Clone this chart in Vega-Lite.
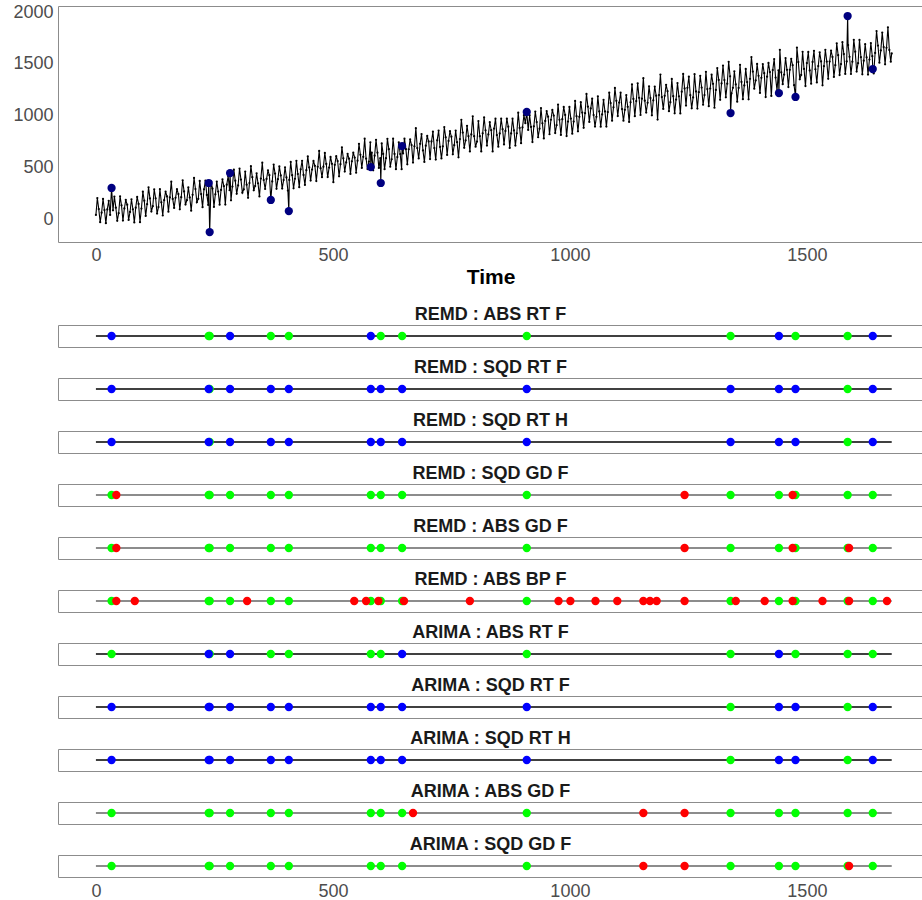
{
"$schema":"https://vega.github.io/schema/vega-lite/v6.json",
"background":"white",
"padding":{"left":12,"top":2,"right":0,"bottom":0},
"config":{"view":{"stroke":"#8c8c8c","strokeWidth":1},"font":"Liberation Sans",
"axis":{"labelFont":"Liberation Sans","labelFontSize":18,"labelColor":"#4d4d4d","ticks":false,"domain":false,"grid":false,"labelPadding":4,"format":"d"},
"header":{"labelFont":"Liberation Sans","labelFontSize":18,"labelFontWeight":"bold","labelColor":"#1a1a1a","labelPadding":1}},
"datasets":{
"series":[
{"t":0,"v":40},{"t":3,"v":203},{"t":6,"v":96},{"t":9,"v":-31},
{"t":12,"v":61},{"t":15,"v":194},{"t":18,"v":87},{"t":21,"v":-40},
{"t":24,"v":93},{"t":27,"v":176},{"t":30,"v":39},{"t":33,"v":300},
{"t":36,"v":84},{"t":39,"v":217},{"t":42,"v":110},{"t":45,"v":-17},
{"t":48,"v":56},{"t":51,"v":219},{"t":54,"v":132},{"t":57,"v":-15},
{"t":60,"v":102},{"t":63,"v":185},{"t":66,"v":138},{"t":69,"v":-9},
{"t":72,"v":68},{"t":75,"v":191},{"t":78,"v":94},{"t":81,"v":-33},
{"t":84,"v":110},{"t":87,"v":213},{"t":90,"v":146},{"t":93,"v":-31},
{"t":96,"v":101},{"t":99,"v":264},{"t":102,"v":177},{"t":105,"v":30},
{"t":108,"v":143},{"t":111,"v":306},{"t":114,"v":199},{"t":117,"v":72},
{"t":120,"v":124},{"t":123,"v":287},{"t":126,"v":200},{"t":129,"v":53},
{"t":132,"v":115},{"t":135,"v":288},{"t":138,"v":161},{"t":141,"v":34},
{"t":144,"v":182},{"t":147,"v":265},{"t":150,"v":218},{"t":153,"v":71},
{"t":156,"v":208},{"t":159,"v":361},{"t":162,"v":194},{"t":165,"v":107},
{"t":168,"v":205},{"t":171,"v":288},{"t":174,"v":241},{"t":177,"v":94},
{"t":180,"v":211},{"t":183,"v":374},{"t":186,"v":267},{"t":189,"v":140},
{"t":192,"v":182},{"t":195,"v":305},{"t":198,"v":208},{"t":201,"v":81},
{"t":204,"v":234},{"t":207,"v":397},{"t":210,"v":290},{"t":213,"v":163},
{"t":216,"v":195},{"t":219,"v":368},{"t":222,"v":241},{"t":225,"v":114},
{"t":228,"v":287},{"t":231,"v":370},{"t":234,"v":233},{"t":237,"v":136},{"t":238,"v":348},
{"t":240,"v":-126},{"t":243,"v":361},{"t":246,"v":294},{"t":249,"v":117},
{"t":252,"v":239},{"t":255,"v":362},{"t":258,"v":265},{"t":261,"v":138},
{"t":264,"v":281},{"t":267,"v":384},{"t":270,"v":317},{"t":273,"v":140},
{"t":276,"v":332},{"t":279,"v":415},{"t":282,"v":278},{"t":283,"v":444},{"t":285,"v":181},
{"t":288,"v":314},{"t":291,"v":477},{"t":294,"v":370},{"t":297,"v":243},
{"t":300,"v":325},{"t":303,"v":488},{"t":306,"v":381},{"t":309,"v":254},
{"t":312,"v":286},{"t":315,"v":459},{"t":318,"v":332},{"t":321,"v":205},
{"t":324,"v":348},{"t":327,"v":511},{"t":330,"v":404},{"t":333,"v":277},
{"t":336,"v":319},{"t":339,"v":442},{"t":342,"v":345},{"t":345,"v":218},
{"t":348,"v":391},{"t":351,"v":544},{"t":354,"v":377},{"t":357,"v":290},
{"t":360,"v":387},{"t":363,"v":470},{"t":366,"v":423},{"t":369,"v":184},
{"t":372,"v":363},{"t":375,"v":526},{"t":378,"v":439},{"t":381,"v":292},
{"t":384,"v":385},{"t":387,"v":508},{"t":390,"v":421},{"t":393,"v":294},
{"t":396,"v":376},{"t":399,"v":499},{"t":402,"v":402},{"t":405,"v":275},{"t":407,"v":77},
{"t":408,"v":378},{"t":411,"v":551},{"t":414,"v":424},{"t":417,"v":297},
{"t":420,"v":389},{"t":423,"v":562},{"t":426,"v":435},{"t":429,"v":308},
{"t":432,"v":480},{"t":435,"v":563},{"t":438,"v":426},{"t":441,"v":329},
{"t":444,"v":472},{"t":447,"v":605},{"t":450,"v":498},{"t":453,"v":371},
{"t":456,"v":478},{"t":459,"v":561},{"t":462,"v":514},{"t":465,"v":367},
{"t":468,"v":505},{"t":471,"v":658},{"t":474,"v":491},{"t":477,"v":404},
{"t":480,"v":506},{"t":483,"v":639},{"t":486,"v":532},{"t":489,"v":405},
{"t":492,"v":497},{"t":495,"v":600},{"t":498,"v":533},{"t":501,"v":356},
{"t":504,"v":524},{"t":507,"v":607},{"t":510,"v":560},{"t":513,"v":413},
{"t":516,"v":530},{"t":519,"v":693},{"t":522,"v":586},{"t":525,"v":459},
{"t":528,"v":547},{"t":531,"v":630},{"t":534,"v":583},{"t":537,"v":436},
{"t":540,"v":558},{"t":543,"v":641},{"t":546,"v":594},{"t":549,"v":447},
{"t":552,"v":564},{"t":555,"v":727},{"t":558,"v":620},{"t":561,"v":493},
{"t":564,"v":601},{"t":567,"v":776},{"t":570,"v":584},{"t":573,"v":483},
{"t":576,"v":554},{"t":579,"v":741},{"t":580,"v":502},{"t":582,"v":641},{"t":585,"v":471},
{"t":588,"v":612},{"t":591,"v":765},{"t":594,"v":641},{"t":597,"v":494},
{"t":600,"v":588},{"t":601,"v":348},{"t":603,"v":730},{"t":606,"v":629},{"t":609,"v":482},
{"t":612,"v":588},{"t":615,"v":775},{"t":618,"v":675},{"t":621,"v":505},
{"t":624,"v":577},{"t":627,"v":776},{"t":630,"v":629},{"t":633,"v":482},
{"t":636,"v":599},{"t":639,"v":741},{"t":642,"v":628},{"t":645,"v":482},{"t":646,"v":705},
{"t":648,"v":634},{"t":651,"v":776},{"t":654,"v":675},{"t":657,"v":528},
{"t":660,"v":674},{"t":663,"v":769},{"t":666,"v":715},{"t":669,"v":545},
{"t":672,"v":703},{"t":675,"v":878},{"t":678,"v":686},{"t":681,"v":585},
{"t":684,"v":726},{"t":687,"v":821},{"t":690,"v":663},{"t":693,"v":551},
{"t":696,"v":708},{"t":699,"v":803},{"t":702,"v":749},{"t":705,"v":579},
{"t":708,"v":749},{"t":711,"v":844},{"t":714,"v":686},{"t":717,"v":574},
{"t":720,"v":760},{"t":723,"v":855},{"t":726,"v":697},{"t":729,"v":585},
{"t":732,"v":702},{"t":735,"v":889},{"t":738,"v":789},{"t":741,"v":619},
{"t":744,"v":754},{"t":747,"v":849},{"t":750,"v":795},{"t":753,"v":625},
{"t":756,"v":713},{"t":759,"v":855},{"t":762,"v":742},{"t":765,"v":596},
{"t":768,"v":772},{"t":771,"v":959},{"t":774,"v":835},{"t":777,"v":688},
{"t":780,"v":759},{"t":783,"v":901},{"t":786,"v":800},{"t":789,"v":653},
{"t":792,"v":817},{"t":795,"v":992},{"t":798,"v":800},{"t":801,"v":699},
{"t":804,"v":748},{"t":807,"v":947},{"t":810,"v":800},{"t":813,"v":653},
{"t":816,"v":828},{"t":819,"v":981},{"t":822,"v":857},{"t":825,"v":710},
{"t":828,"v":817},{"t":831,"v":935},{"t":834,"v":858},{"t":837,"v":653},
{"t":840,"v":874},{"t":843,"v":969},{"t":846,"v":811},{"t":849,"v":699},
{"t":852,"v":827},{"t":855,"v":969},{"t":858,"v":868},{"t":861,"v":721},
{"t":864,"v":851},{"t":867,"v":969},{"t":870,"v":892},{"t":873,"v":687},
{"t":876,"v":827},{"t":879,"v":969},{"t":882,"v":856},{"t":885,"v":710},
{"t":888,"v":828},{"t":891,"v":1027},{"t":894,"v":880},{"t":897,"v":733},
{"t":900,"v":885},{"t":903,"v":1003},{"t":906,"v":926},{"t":909,"v":1034},
{"t":912,"v":861},{"t":915,"v":1003},{"t":918,"v":890},{"t":921,"v":744},
{"t":924,"v":896},{"t":927,"v":1038},{"t":930,"v":937},{"t":933,"v":790},
{"t":936,"v":873},{"t":939,"v":1072},{"t":942,"v":925},{"t":945,"v":778},
{"t":948,"v":948},{"t":951,"v":1043},{"t":954,"v":989},{"t":957,"v":819},
{"t":960,"v":959},{"t":963,"v":1054},{"t":966,"v":1000},{"t":969,"v":830},
{"t":972,"v":907},{"t":975,"v":1106},{"t":978,"v":959},{"t":981,"v":812},
{"t":984,"v":965},{"t":987,"v":1083},{"t":990,"v":1006},{"t":993,"v":801},
{"t":996,"v":941},{"t":999,"v":1083},{"t":1002,"v":970},{"t":1005,"v":824},
{"t":1008,"v":942},{"t":1011,"v":1141},{"t":1014,"v":994},{"t":1017,"v":847},
{"t":1020,"v":987},{"t":1023,"v":1129},{"t":1026,"v":1028},{"t":1029,"v":881},
{"t":1032,"v":1022},{"t":1035,"v":1209},{"t":1038,"v":1085},{"t":1041,"v":938},
{"t":1044,"v":1068},{"t":1047,"v":1163},{"t":1050,"v":1005},{"t":1053,"v":893},
{"t":1056,"v":987},{"t":1059,"v":1186},{"t":1062,"v":1039},{"t":1065,"v":892},
{"t":1068,"v":1010},{"t":1071,"v":1152},{"t":1074,"v":1039},{"t":1077,"v":893},
{"t":1080,"v":1033},{"t":1083,"v":1220},{"t":1086,"v":1120},{"t":1089,"v":950},
{"t":1092,"v":1079},{"t":1095,"v":1266},{"t":1098,"v":1142},{"t":1101,"v":995},
{"t":1104,"v":1125},{"t":1107,"v":1220},{"t":1110,"v":1062},{"t":1113,"v":950},
{"t":1116,"v":1055},{"t":1119,"v":1197},{"t":1122,"v":1084},{"t":1125,"v":938},
{"t":1128,"v":1128},{"t":1131,"v":1300},{"t":1134,"v":1160},{"t":1137,"v":994},
{"t":1140,"v":1139},{"t":1143,"v":1311},{"t":1146,"v":1171},{"t":1149,"v":1005},
{"t":1152,"v":1163},{"t":1155,"v":1361},{"t":1158,"v":1143},{"t":1161,"v":1029},
{"t":1164,"v":1123},{"t":1167,"v":1282},{"t":1170,"v":1168},{"t":1173,"v":1002},
{"t":1176,"v":1147},{"t":1179,"v":1280},{"t":1182,"v":1192},{"t":1185,"v":961},
{"t":1188,"v":1198},{"t":1191,"v":1396},{"t":1194,"v":1178},{"t":1197,"v":1064},
{"t":1200,"v":1190},{"t":1203,"v":1297},{"t":1206,"v":1235},{"t":1209,"v":1042},
{"t":1212,"v":1129},{"t":1215,"v":1353},{"t":1218,"v":1187},{"t":1221,"v":1021},
{"t":1224,"v":1154},{"t":1227,"v":1313},{"t":1230,"v":1186},{"t":1233,"v":1020},
{"t":1236,"v":1230},{"t":1239,"v":1402},{"t":1242,"v":1262},{"t":1245,"v":1096},
{"t":1248,"v":1268},{"t":1251,"v":1375},{"t":1254,"v":1196},{"t":1257,"v":1069},
{"t":1260,"v":1175},{"t":1263,"v":1399},{"t":1266,"v":1233},{"t":1269,"v":1067},
{"t":1272,"v":1225},{"t":1275,"v":1384},{"t":1278,"v":1270},{"t":1281,"v":1104},
{"t":1284,"v":1198},{"t":1287,"v":1422},{"t":1290,"v":1256},{"t":1293,"v":1090},
{"t":1296,"v":1261},{"t":1299,"v":1394},{"t":1302,"v":1306},{"t":1305,"v":1075},
{"t":1308,"v":1247},{"t":1311,"v":1458},{"t":1314,"v":1344},{"t":1317,"v":1152},
{"t":1320,"v":1310},{"t":1323,"v":1482},{"t":1326,"v":1342},{"t":1329,"v":1176},
{"t":1332,"v":1308},{"t":1335,"v":1519},{"t":1338,"v":1379},{"t":1339,"v":1024},{"t":1341,"v":1213},
{"t":1344,"v":1268},{"t":1347,"v":1427},{"t":1350,"v":1300},{"t":1353,"v":1134},
{"t":1356,"v":1266},{"t":1359,"v":1490},{"t":1362,"v":1324},{"t":1365,"v":1158},
{"t":1368,"v":1291},{"t":1371,"v":1450},{"t":1374,"v":1323},{"t":1377,"v":1157},
{"t":1380,"v":1354},{"t":1383,"v":1565},{"t":1386,"v":1425},{"t":1389,"v":1259},
{"t":1392,"v":1339},{"t":1395,"v":1498},{"t":1398,"v":1384},{"t":1401,"v":1218},
{"t":1404,"v":1364},{"t":1407,"v":1497},{"t":1410,"v":1409},{"t":1413,"v":1178},
{"t":1416,"v":1375},{"t":1419,"v":1508},{"t":1422,"v":1420},{"t":1425,"v":1189},
{"t":1428,"v":1439},{"t":1431,"v":1546},{"t":1434,"v":1367},{"t":1437,"v":1240},
{"t":1440,"v":1437},{"t":1441,"v":1217},{"t":1443,"v":1635},{"t":1446,"v":1417},{"t":1449,"v":1303},
{"t":1452,"v":1396},{"t":1455,"v":1555},{"t":1458,"v":1441},{"t":1461,"v":1275},
{"t":1464,"v":1441},{"t":1467,"v":1548},{"t":1470,"v":1486},{"t":1473,"v":1293},
{"t":1476,"v":1179},{"t":1479,"v":1656},{"t":1482,"v":1516},{"t":1485,"v":1350},
{"t":1488,"v":1392},{"t":1491,"v":1616},{"t":1494,"v":1450},{"t":1497,"v":1284},
{"t":1500,"v":1507},{"t":1503,"v":1614},{"t":1506,"v":1435},{"t":1509,"v":1308},
{"t":1512,"v":1518},{"t":1515,"v":1625},{"t":1518,"v":1446},{"t":1521,"v":1319},
{"t":1524,"v":1478},{"t":1527,"v":1611},{"t":1530,"v":1523},{"t":1533,"v":1292},
{"t":1536,"v":1476},{"t":1539,"v":1635},{"t":1542,"v":1521},{"t":1545,"v":1355},
{"t":1548,"v":1521},{"t":1551,"v":1628},{"t":1554,"v":1566},{"t":1557,"v":1373},
{"t":1560,"v":1486},{"t":1563,"v":1697},{"t":1566,"v":1583},{"t":1569,"v":1391},
{"t":1572,"v":1497},{"t":1575,"v":1708},{"t":1578,"v":1594},{"t":1581,"v":1402},
{"t":1584,"v":1522},{"t":1586,"v":1961},{"t":1587,"v":1681},{"t":1590,"v":1567},{"t":1593,"v":1401},
{"t":1596,"v":1520},{"t":1599,"v":1731},{"t":1602,"v":1617},{"t":1605,"v":1425},
{"t":1608,"v":1506},{"t":1611,"v":1730},{"t":1614,"v":1564},{"t":1617,"v":1398},
{"t":1620,"v":1530},{"t":1623,"v":1689},{"t":1626,"v":1562},{"t":1629,"v":1396},
{"t":1632,"v":1541},{"t":1635,"v":1700},{"t":1638,"v":1573},{"t":1639,"v":1449},{"t":1641,"v":1407},
{"t":1644,"v":1605},{"t":1647,"v":1816},{"t":1650,"v":1676},{"t":1653,"v":1510},
{"t":1656,"v":1629},{"t":1659,"v":1801},{"t":1662,"v":1661},{"t":1665,"v":1495},
{"t":1668,"v":1654},{"t":1671,"v":1852},{"t":1674,"v":1634},{"t":1677,"v":1520},
{"t":1679,"v":1600}
],
"outliers":[
{"t":33,"v":300},{"t":238,"v":348},{"t":240,"v":-126},{"t":283,"v":444},{"t":369,"v":184},
{"t":407,"v":77},{"t":580,"v":502},{"t":601,"v":348},{"t":646,"v":705},{"t":909,"v":1034},
{"t":1339,"v":1024},{"t":1441,"v":1217},{"t":1476,"v":1179},{"t":1586,"v":1961},{"t":1639,"v":1449}
],
"strips":[
{"panel":"REMD : ABS RT F","t":0,"r":"line"},{"panel":"REMD : ABS RT F","t":1679,"r":"line"},
{"panel":"REMD : ABS RT F","t":238,"r":"TP"},{"panel":"REMD : ABS RT F","t":240,"r":"TP"},{"panel":"REMD : ABS RT F","t":369,"r":"TP"},{"panel":"REMD : ABS RT F","t":407,"r":"TP"},{"panel":"REMD : ABS RT F","t":601,"r":"TP"},{"panel":"REMD : ABS RT F","t":646,"r":"TP"},{"panel":"REMD : ABS RT F","t":909,"r":"TP"},{"panel":"REMD : ABS RT F","t":1339,"r":"TP"},{"panel":"REMD : ABS RT F","t":1476,"r":"TP"},{"panel":"REMD : ABS RT F","t":1586,"r":"TP"},
{"panel":"REMD : ABS RT F","t":33,"r":"FN"},{"panel":"REMD : ABS RT F","t":283,"r":"FN"},{"panel":"REMD : ABS RT F","t":580,"r":"FN"},{"panel":"REMD : ABS RT F","t":1441,"r":"FN"},{"panel":"REMD : ABS RT F","t":1639,"r":"FN"},

{"panel":"REMD : SQD RT F","t":0,"r":"line"},{"panel":"REMD : SQD RT F","t":1679,"r":"line"},
{"panel":"REMD : SQD RT F","t":240,"r":"TP"},{"panel":"REMD : SQD RT F","t":1586,"r":"TP"},
{"panel":"REMD : SQD RT F","t":33,"r":"FN"},{"panel":"REMD : SQD RT F","t":238,"r":"FN"},{"panel":"REMD : SQD RT F","t":283,"r":"FN"},{"panel":"REMD : SQD RT F","t":369,"r":"FN"},{"panel":"REMD : SQD RT F","t":407,"r":"FN"},{"panel":"REMD : SQD RT F","t":580,"r":"FN"},{"panel":"REMD : SQD RT F","t":601,"r":"FN"},{"panel":"REMD : SQD RT F","t":646,"r":"FN"},{"panel":"REMD : SQD RT F","t":909,"r":"FN"},{"panel":"REMD : SQD RT F","t":1339,"r":"FN"},{"panel":"REMD : SQD RT F","t":1441,"r":"FN"},{"panel":"REMD : SQD RT F","t":1476,"r":"FN"},{"panel":"REMD : SQD RT F","t":1639,"r":"FN"},

{"panel":"REMD : SQD RT H","t":0,"r":"line"},{"panel":"REMD : SQD RT H","t":1679,"r":"line"},
{"panel":"REMD : SQD RT H","t":240,"r":"TP"},{"panel":"REMD : SQD RT H","t":1586,"r":"TP"},
{"panel":"REMD : SQD RT H","t":33,"r":"FN"},{"panel":"REMD : SQD RT H","t":238,"r":"FN"},{"panel":"REMD : SQD RT H","t":283,"r":"FN"},{"panel":"REMD : SQD RT H","t":369,"r":"FN"},{"panel":"REMD : SQD RT H","t":407,"r":"FN"},{"panel":"REMD : SQD RT H","t":580,"r":"FN"},{"panel":"REMD : SQD RT H","t":601,"r":"FN"},{"panel":"REMD : SQD RT H","t":646,"r":"FN"},{"panel":"REMD : SQD RT H","t":909,"r":"FN"},{"panel":"REMD : SQD RT H","t":1339,"r":"FN"},{"panel":"REMD : SQD RT H","t":1441,"r":"FN"},{"panel":"REMD : SQD RT H","t":1476,"r":"FN"},{"panel":"REMD : SQD RT H","t":1639,"r":"FN"},

{"panel":"REMD : SQD GD F","t":0,"r":"line"},{"panel":"REMD : SQD GD F","t":1679,"r":"line"},
{"panel":"REMD : SQD GD F","t":33,"r":"TP"},{"panel":"REMD : SQD GD F","t":238,"r":"TP"},{"panel":"REMD : SQD GD F","t":240,"r":"TP"},{"panel":"REMD : SQD GD F","t":283,"r":"TP"},{"panel":"REMD : SQD GD F","t":369,"r":"TP"},{"panel":"REMD : SQD GD F","t":407,"r":"TP"},{"panel":"REMD : SQD GD F","t":580,"r":"TP"},{"panel":"REMD : SQD GD F","t":601,"r":"TP"},{"panel":"REMD : SQD GD F","t":646,"r":"TP"},{"panel":"REMD : SQD GD F","t":909,"r":"TP"},{"panel":"REMD : SQD GD F","t":1339,"r":"TP"},{"panel":"REMD : SQD GD F","t":1441,"r":"TP"},{"panel":"REMD : SQD GD F","t":1476,"r":"TP"},{"panel":"REMD : SQD GD F","t":1586,"r":"TP"},{"panel":"REMD : SQD GD F","t":1639,"r":"TP"},
{"panel":"REMD : SQD GD F","t":43,"r":"FP"},{"panel":"REMD : SQD GD F","t":1242,"r":"FP"},{"panel":"REMD : SQD GD F","t":1470,"r":"FP"},

{"panel":"REMD : ABS GD F","t":0,"r":"line"},{"panel":"REMD : ABS GD F","t":1679,"r":"line"},
{"panel":"REMD : ABS GD F","t":33,"r":"TP"},{"panel":"REMD : ABS GD F","t":238,"r":"TP"},{"panel":"REMD : ABS GD F","t":240,"r":"TP"},{"panel":"REMD : ABS GD F","t":283,"r":"TP"},{"panel":"REMD : ABS GD F","t":369,"r":"TP"},{"panel":"REMD : ABS GD F","t":407,"r":"TP"},{"panel":"REMD : ABS GD F","t":580,"r":"TP"},{"panel":"REMD : ABS GD F","t":601,"r":"TP"},{"panel":"REMD : ABS GD F","t":646,"r":"TP"},{"panel":"REMD : ABS GD F","t":909,"r":"TP"},{"panel":"REMD : ABS GD F","t":1339,"r":"TP"},{"panel":"REMD : ABS GD F","t":1441,"r":"TP"},{"panel":"REMD : ABS GD F","t":1476,"r":"TP"},{"panel":"REMD : ABS GD F","t":1586,"r":"TP"},{"panel":"REMD : ABS GD F","t":1639,"r":"TP"},
{"panel":"REMD : ABS GD F","t":43,"r":"FP"},{"panel":"REMD : ABS GD F","t":1242,"r":"FP"},{"panel":"REMD : ABS GD F","t":1470,"r":"FP"},{"panel":"REMD : ABS GD F","t":1589,"r":"FP"},

{"panel":"REMD : ABS BP F","t":0,"r":"line"},{"panel":"REMD : ABS BP F","t":1679,"r":"line"},
{"panel":"REMD : ABS BP F","t":33,"r":"TP"},{"panel":"REMD : ABS BP F","t":238,"r":"TP"},{"panel":"REMD : ABS BP F","t":240,"r":"TP"},{"panel":"REMD : ABS BP F","t":283,"r":"TP"},{"panel":"REMD : ABS BP F","t":369,"r":"TP"},{"panel":"REMD : ABS BP F","t":407,"r":"TP"},{"panel":"REMD : ABS BP F","t":580,"r":"TP"},{"panel":"REMD : ABS BP F","t":601,"r":"TP"},{"panel":"REMD : ABS BP F","t":646,"r":"TP"},{"panel":"REMD : ABS BP F","t":909,"r":"TP"},{"panel":"REMD : ABS BP F","t":1339,"r":"TP"},{"panel":"REMD : ABS BP F","t":1441,"r":"TP"},{"panel":"REMD : ABS BP F","t":1476,"r":"TP"},{"panel":"REMD : ABS BP F","t":1586,"r":"TP"},{"panel":"REMD : ABS BP F","t":1639,"r":"TP"},
{"panel":"REMD : ABS BP F","t":43,"r":"FP"},{"panel":"REMD : ABS BP F","t":82,"r":"FP"},{"panel":"REMD : ABS BP F","t":319,"r":"FP"},{"panel":"REMD : ABS BP F","t":545,"r":"FP"},{"panel":"REMD : ABS BP F","t":570,"r":"FP"},{"panel":"REMD : ABS BP F","t":596,"r":"FP"},{"panel":"REMD : ABS BP F","t":650,"r":"FP"},{"panel":"REMD : ABS BP F","t":789,"r":"FP"},{"panel":"REMD : ABS BP F","t":976,"r":"FP"},{"panel":"REMD : ABS BP F","t":1001,"r":"FP"},{"panel":"REMD : ABS BP F","t":1054,"r":"FP"},{"panel":"REMD : ABS BP F","t":1100,"r":"FP"},{"panel":"REMD : ABS BP F","t":1155,"r":"FP"},{"panel":"REMD : ABS BP F","t":1169,"r":"FP"},{"panel":"REMD : ABS BP F","t":1183,"r":"FP"},{"panel":"REMD : ABS BP F","t":1242,"r":"FP"},{"panel":"REMD : ABS BP F","t":1350,"r":"FP"},{"panel":"REMD : ABS BP F","t":1411,"r":"FP"},{"panel":"REMD : ABS BP F","t":1470,"r":"FP"},{"panel":"REMD : ABS BP F","t":1533,"r":"FP"},{"panel":"REMD : ABS BP F","t":1589,"r":"FP"},{"panel":"REMD : ABS BP F","t":1669,"r":"FP"},

{"panel":"ARIMA : ABS RT F","t":0,"r":"line"},{"panel":"ARIMA : ABS RT F","t":1679,"r":"line"},
{"panel":"ARIMA : ABS RT F","t":33,"r":"TP"},{"panel":"ARIMA : ABS RT F","t":240,"r":"TP"},{"panel":"ARIMA : ABS RT F","t":369,"r":"TP"},{"panel":"ARIMA : ABS RT F","t":407,"r":"TP"},{"panel":"ARIMA : ABS RT F","t":580,"r":"TP"},{"panel":"ARIMA : ABS RT F","t":601,"r":"TP"},{"panel":"ARIMA : ABS RT F","t":909,"r":"TP"},{"panel":"ARIMA : ABS RT F","t":1339,"r":"TP"},{"panel":"ARIMA : ABS RT F","t":1476,"r":"TP"},{"panel":"ARIMA : ABS RT F","t":1586,"r":"TP"},{"panel":"ARIMA : ABS RT F","t":1639,"r":"TP"},
{"panel":"ARIMA : ABS RT F","t":238,"r":"FN"},{"panel":"ARIMA : ABS RT F","t":283,"r":"FN"},{"panel":"ARIMA : ABS RT F","t":646,"r":"FN"},{"panel":"ARIMA : ABS RT F","t":1441,"r":"FN"},

{"panel":"ARIMA : SQD RT F","t":0,"r":"line"},{"panel":"ARIMA : SQD RT F","t":1679,"r":"line"},
{"panel":"ARIMA : SQD RT F","t":1339,"r":"TP"},{"panel":"ARIMA : SQD RT F","t":1586,"r":"TP"},
{"panel":"ARIMA : SQD RT F","t":33,"r":"FN"},{"panel":"ARIMA : SQD RT F","t":238,"r":"FN"},{"panel":"ARIMA : SQD RT F","t":240,"r":"FN"},{"panel":"ARIMA : SQD RT F","t":283,"r":"FN"},{"panel":"ARIMA : SQD RT F","t":369,"r":"FN"},{"panel":"ARIMA : SQD RT F","t":407,"r":"FN"},{"panel":"ARIMA : SQD RT F","t":580,"r":"FN"},{"panel":"ARIMA : SQD RT F","t":601,"r":"FN"},{"panel":"ARIMA : SQD RT F","t":646,"r":"FN"},{"panel":"ARIMA : SQD RT F","t":909,"r":"FN"},{"panel":"ARIMA : SQD RT F","t":1441,"r":"FN"},{"panel":"ARIMA : SQD RT F","t":1476,"r":"FN"},{"panel":"ARIMA : SQD RT F","t":1639,"r":"FN"},

{"panel":"ARIMA : SQD RT H","t":0,"r":"line"},{"panel":"ARIMA : SQD RT H","t":1679,"r":"line"},
{"panel":"ARIMA : SQD RT H","t":1339,"r":"TP"},{"panel":"ARIMA : SQD RT H","t":1586,"r":"TP"},
{"panel":"ARIMA : SQD RT H","t":33,"r":"FN"},{"panel":"ARIMA : SQD RT H","t":238,"r":"FN"},{"panel":"ARIMA : SQD RT H","t":240,"r":"FN"},{"panel":"ARIMA : SQD RT H","t":283,"r":"FN"},{"panel":"ARIMA : SQD RT H","t":369,"r":"FN"},{"panel":"ARIMA : SQD RT H","t":407,"r":"FN"},{"panel":"ARIMA : SQD RT H","t":580,"r":"FN"},{"panel":"ARIMA : SQD RT H","t":601,"r":"FN"},{"panel":"ARIMA : SQD RT H","t":646,"r":"FN"},{"panel":"ARIMA : SQD RT H","t":909,"r":"FN"},{"panel":"ARIMA : SQD RT H","t":1441,"r":"FN"},{"panel":"ARIMA : SQD RT H","t":1476,"r":"FN"},{"panel":"ARIMA : SQD RT H","t":1639,"r":"FN"},

{"panel":"ARIMA : ABS GD F","t":0,"r":"line"},{"panel":"ARIMA : ABS GD F","t":1679,"r":"line"},
{"panel":"ARIMA : ABS GD F","t":33,"r":"TP"},{"panel":"ARIMA : ABS GD F","t":238,"r":"TP"},{"panel":"ARIMA : ABS GD F","t":240,"r":"TP"},{"panel":"ARIMA : ABS GD F","t":283,"r":"TP"},{"panel":"ARIMA : ABS GD F","t":369,"r":"TP"},{"panel":"ARIMA : ABS GD F","t":407,"r":"TP"},{"panel":"ARIMA : ABS GD F","t":580,"r":"TP"},{"panel":"ARIMA : ABS GD F","t":601,"r":"TP"},{"panel":"ARIMA : ABS GD F","t":646,"r":"TP"},{"panel":"ARIMA : ABS GD F","t":909,"r":"TP"},{"panel":"ARIMA : ABS GD F","t":1339,"r":"TP"},{"panel":"ARIMA : ABS GD F","t":1441,"r":"TP"},{"panel":"ARIMA : ABS GD F","t":1476,"r":"TP"},{"panel":"ARIMA : ABS GD F","t":1586,"r":"TP"},{"panel":"ARIMA : ABS GD F","t":1639,"r":"TP"},
{"panel":"ARIMA : ABS GD F","t":669,"r":"FP"},{"panel":"ARIMA : ABS GD F","t":1155,"r":"FP"},{"panel":"ARIMA : ABS GD F","t":1242,"r":"FP"},

{"panel":"ARIMA : SQD GD F","t":0,"r":"line"},{"panel":"ARIMA : SQD GD F","t":1679,"r":"line"},
{"panel":"ARIMA : SQD GD F","t":33,"r":"TP"},{"panel":"ARIMA : SQD GD F","t":238,"r":"TP"},{"panel":"ARIMA : SQD GD F","t":240,"r":"TP"},{"panel":"ARIMA : SQD GD F","t":283,"r":"TP"},{"panel":"ARIMA : SQD GD F","t":369,"r":"TP"},{"panel":"ARIMA : SQD GD F","t":407,"r":"TP"},{"panel":"ARIMA : SQD GD F","t":580,"r":"TP"},{"panel":"ARIMA : SQD GD F","t":601,"r":"TP"},{"panel":"ARIMA : SQD GD F","t":646,"r":"TP"},{"panel":"ARIMA : SQD GD F","t":909,"r":"TP"},{"panel":"ARIMA : SQD GD F","t":1339,"r":"TP"},{"panel":"ARIMA : SQD GD F","t":1441,"r":"TP"},{"panel":"ARIMA : SQD GD F","t":1476,"r":"TP"},{"panel":"ARIMA : SQD GD F","t":1586,"r":"TP"},{"panel":"ARIMA : SQD GD F","t":1639,"r":"TP"},
{"panel":"ARIMA : SQD GD F","t":1155,"r":"FP"},{"panel":"ARIMA : SQD GD F","t":1242,"r":"FP"},{"panel":"ARIMA : SQD GD F","t":1589,"r":"FP"}
]
},
"spacing":17,
"vconcat":[
{
"width":865,"height":236,
"layer":[
{"data":{"name":"series"},
"mark":{"type":"line","color":"black","strokeWidth":1.1,"point":{"filled":true,"size":5,"color":"black","opacity":1}},
"encoding":{
"x":{"field":"t","type":"quantitative","scale":{"domain":[-80,1745],"nice":false,"zero":false},"axis":{"values":[0,500,1000,1500],"title":"Time","titleFont":"Liberation Sans","titleFontSize":21,"titleFontWeight":"bold","titleColor":"black","titlePadding":2}},
"y":{"field":"v","type":"quantitative","scale":{"domain":[-222,2058],"nice":false,"zero":false},"axis":{"values":[0,500,1000,1500,2000],"title":null,"labelPadding":5}}}},
{"data":{"name":"outliers"},
"mark":{"type":"circle","size":68,"color":"#000080","opacity":1},
"encoding":{"x":{"field":"t","type":"quantitative"},"y":{"field":"v","type":"quantitative"}}}
]
},
{
"data":{"name":"strips"},
"facet":{"field":"panel","type":"nominal","title":null,
"sort":["REMD : ABS RT F","REMD : SQD RT F","REMD : SQD RT H","REMD : SQD GD F","REMD : ABS GD F","REMD : ABS BP F","ARIMA : ABS RT F","ARIMA : SQD RT F","ARIMA : SQD RT H","ARIMA : ABS GD F","ARIMA : SQD GD F"]},
"columns":1,
"spacing":10,
"spec":{
"width":865,"height":22,
"layer":[
{"transform":[{"filter":"datum.r === 'line' && indexof(datum.panel, ' RT ') >= 0"}],
"mark":{"type":"line","strokeWidth":1.6,"color":"#000000"},
"encoding":{
"x":{"field":"t","type":"quantitative","scale":{"domain":[-80,1745],"nice":false,"zero":false},"axis":{"values":[0,500,1000,1500],"title":null}},
"y":{"datum":0,"type":"quantitative","scale":{"domain":[-1,1]},"axis":null}}},
{"transform":[{"filter":"datum.r === 'line' && indexof(datum.panel, ' RT ') < 0"}],
"mark":{"type":"line","strokeWidth":1.6,"color":"#666666"},
"encoding":{
"x":{"field":"t","type":"quantitative"},
"y":{"datum":0,"type":"quantitative"}}},
{"transform":[{"filter":"datum.r !== 'line'"}],
"mark":{"type":"circle","size":70,"opacity":1},
"encoding":{
"x":{"field":"t","type":"quantitative"},
"y":{"datum":0,"type":"quantitative"},
"color":{"field":"r","type":"nominal","scale":{"domain":["TP","FN","FP"],"range":["#00FF00","#0000FF","#FF0000"]},"legend":null}}}
]
}
}
]
}
